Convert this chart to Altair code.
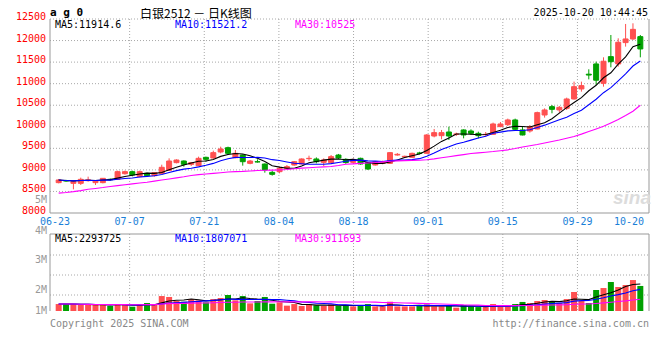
import altair as alt
import pandas as pd

# ---------------- data ----------------
opens = [8704, 8750, 8688, 8688, 8750, 8704, 8704, 8781, 8781, 8912,
         8959, 8843, 8920, 8866, 8920, 8990, 9168, 9206, 9129, 9098,
         9291, 9276, 9415, 9515, 9283, 9345, 9152, 9190, 9136, 8943,
         8959, 9036, 9113, 9137, 9260, 9253, 9175, 9168, 9345, 9245,
         9175, 9268, 9168, 9113, 9150, 9152, 9345, 9300, 9291, 9392,
         9384, 9786, 9794, 9879, 9825, 9926, 9902, 9848, 9817, 9825,
         10003, 10049, 10158, 9926, 9902, 9949, 10273, 10467, 10390, 10428,
         10645, 10877, 11220, 11457, 11008, 11627, 11457, 11952, 12037, 12091]
closes = [8766, 8742, 8727, 8781, 8770, 8742, 8804, 8770, 8959, 8959,
          8882, 8959, 8866, 8935, 9060, 9206, 9229, 9129, 9168, 9268,
          9245, 9400, 9485, 9384, 9384, 9190, 9206, 9183, 8998, 8897,
          9036, 9075, 9190, 9253, 9268, 9190, 9230, 9307, 9276, 9170,
          9237, 9137, 9020, 9190, 9175, 9400, 9361, 9315, 9384, 9384,
          9810, 9864, 9864, 9786, 9833, 9810, 9848, 9794, 9825, 10065,
          10065, 10158, 9941, 9810, 10003, 10328, 10390, 10405, 10451, 10645,
          10930, 10954, 11200, 11080, 11520, 11510, 11960, 12037, 12260, 11805]
highs = [8789, 8770, 8740, 8820, 8843, 8755, 8810, 8800, 8982, 8982,
         8982, 8982, 8935, 8950, 9121, 9268, 9245, 9220, 9183, 9307,
         9307, 9446, 9539, 9539, 9461, 9360, 9230, 9245, 9150, 8982,
         9075, 9113, 9206, 9268, 9330, 9290, 9268, 9345, 9370, 9268,
         9268, 9283, 9175, 9206, 9215, 9415, 9390, 9330, 9400, 9420,
         9830, 9949, 9926, 10003, 9864, 9940, 9941, 9887, 9879, 10096,
         10111, 10189, 10189, 10003, 10041, 10351, 10428, 10506, 10482, 10676,
         11047, 11047, 11333, 11511, 11611, 12129, 12052, 12385, 12400, 12129]
lows = [8688, 8720, 8549, 8650, 8727, 8650, 8688, 8750, 8770, 8890,
        8850, 8828, 8835, 8843, 8910, 8975, 9152, 9075, 9090, 9090,
        9190, 9260, 9384, 9345, 9268, 9098, 9130, 9170, 8935, 8866,
        8920, 9013, 9098, 9129, 9206, 9152, 9090, 9152, 9253, 9140,
        9152, 9120, 8998, 9100, 9130, 9137, 9330, 9290, 9280, 9360,
        9380, 9755, 9709, 9693, 9786, 9732, 9810, 9732, 9770, 9810,
        9995, 10018, 9902, 9800, 9864, 9940, 10212, 10312, 10328, 10390,
        10630, 10815, 11100, 10970, 10931, 11379, 11395, 11859, 12013, 11611]
volumes_m = [0.60, 0.60, 0.60, 0.52, 0.52, 0.52, 0.60, 0.43, 0.60, 0.52,
             0.37, 0.57, 0.69, 0.57, 1.29, 1.21, 0.86, 0.80, 1.03, 0.92,
             0.75, 1.03, 1.12, 1.38, 0.92, 1.29, 0.66, 0.86, 1.21, 0.63,
             0.75, 0.46, 0.60, 0.43, 0.57, 0.49, 0.43, 0.57, 0.43, 0.52,
             0.40, 0.43, 0.60, 0.40, 0.40, 0.80, 0.40, 0.40, 0.40, 0.43,
             0.57, 0.40, 0.40, 0.49, 0.29, 0.52, 0.40, 0.34, 0.34, 0.60,
             0.40, 0.40, 0.60, 0.78, 0.69, 0.86, 0.95, 0.86, 0.69, 1.03,
             1.64, 0.86, 0.69, 1.81, 1.98, 2.50, 2.07, 2.24, 2.67, 2.16]
ma30_price = [8460, 8475, 8495, 8520, 8550, 8570, 8590, 8615, 8635, 8655,
              8675, 8695, 8715, 8740, 8765, 8790, 8815, 8840, 8870, 8890,
              8905, 8920, 8935, 8950, 8960, 8965, 8975, 8985, 8990, 8995,
              9000, 9010, 9025, 9040, 9050, 9060, 9070, 9080, 9100, 9130,
              9140, 9150, 9160, 9170, 9185, 9200, 9210, 9215, 9220, 9225,
              9235, 9255, 9280, 9305, 9330, 9355, 9380, 9395, 9410, 9425,
              9445, 9465, 9495, 9530, 9560, 9590, 9625, 9660, 9695, 9735,
              9775, 9830, 9890, 9950, 10010, 10090, 10170, 10260, 10360, 10500]
date_labels = ["06-23", "07-07", "07-21", "08-04", "08-18", "09-01", "09-15", "09-29"]
last_date_label = "10-20"
price_ticks = [8000, 8500, 9000, 9500, 10000, 10500, 11000, 11500, 12000, 12500]
vol_tick_labels = ["5M", "4M", "3M", "2M", "1M"]
price_legend = ["MA5:11914.6", "MA10:11521.2", "MA30:10525"]
vol_legend = ["MA5:2293725", "MA10:1807071", "MA30:911693"]
legend_colors = ["#000000", "#0000ff", "#ff00ff"]

# ---------------- layout constants ----------------
W, H = 599, 292
P_BOT = 194           # bottom of price panel (plot coords)
V_TOP, V_BOT = 215, 292
N = len(closes)
GRID_STEP = 75.9 / W * N  # sina draws its vertical grid at a fixed pixel step
MONO = "DejaVu Sans Mono"
RED, GREEN = "#ff5050", "#00a000"
GRIDC = "#a8a8a8"
BORDER = "#999999"

df = pd.DataFrame({
    "d": list(range(N)), "open": opens, "close": closes, "high": highs,
    "low": lows, "vol": volumes_m, "ma30": ma30_price,
})
df["dir"] = ["up" if c >= o else "down" for o, c in zip(opens, closes)]

XS = alt.Scale(domain=[-0.5, N - 0.5], range=[0, W], nice=False, zero=False)
PY = alt.Scale(domain=[8000, 12500], range=[P_BOT, 0], nice=False, zero=False)
VY = alt.Scale(domain=[0, 6.64], range=[V_BOT, V_TOP], nice=False, zero=True)
COL = alt.Scale(domain=["up", "down"], range=[RED, GREEN])

xenc = alt.X("d:Q", scale=XS, axis=None)
one = pd.DataFrame({"a": [0]})


def rule(x=None, x2=None, y=None, y2=None, color=BORDER, dash=None):
    kw = {}
    if dash:
        kw["strokeDash"] = dash
    return alt.Chart(one).mark_rule(color=color, strokeWidth=1, **kw).encode(
        x=alt.value(x), x2=alt.value(x2) if x2 is not None else alt.value(x),
        y=alt.value(y), y2=alt.value(y2) if y2 is not None else alt.value(y))


def txt(s, x, y, color="#000", size=10, align="left", font=MONO, weight="normal",
        style="normal", baseline="middle"):
    return alt.Chart(one).mark_text(
        text=s, color=color, fontSize=size, align=align, baseline=baseline,
        font=font, fontWeight=weight, fontStyle=style).encode(
        x=alt.value(x), y=alt.value(y))


# grid
tick_df = pd.DataFrame({"p": [-0.5 + k * GRID_STEP for k in range(len(date_labels))],
                        "lab": date_labels})
vgrid_df = tick_df.iloc[1:]
hgrid = alt.Chart(pd.DataFrame({"v": price_ticks[1:]})).mark_rule(
    color=GRIDC, strokeDash=[1, 2]).encode(
    y=alt.Y("v:Q", scale=PY, axis=None), x=alt.value(0), x2=alt.value(W))
vgrid_p = alt.Chart(vgrid_df).mark_rule(color=GRIDC, strokeDash=[1, 2]).encode(
    x=alt.X("p:Q", scale=XS, axis=None), y=alt.value(0), y2=alt.value(P_BOT))
vgrid_v = alt.Chart(vgrid_df).mark_rule(color=GRIDC, strokeDash=[1, 2]).encode(
    x=alt.X("p:Q", scale=XS, axis=None), y=alt.value(V_TOP), y2=alt.value(V_BOT))
vol_hgrid = [rule(0, W, yy, color=GRIDC, dash=[1, 2]) for yy in (236, 256, 276)]

borders = [
    rule(0, None, 0, P_BOT), rule(W, None, 0, P_BOT), rule(0, W, P_BOT),
    rule(0, W, V_TOP), rule(0, None, V_TOP, V_BOT), rule(W, None, V_TOP, V_BOT),
]

# axis labels
plab = alt.Chart(pd.DataFrame({"v": price_ticks})).mark_text(
    align="right", baseline="middle", color="#ff0000", fontSize=10, font=MONO, dy=-2).encode(
    y=alt.Y("v:Q", scale=PY, axis=None), x=alt.value(-4), text=alt.Text("v:Q", format="d"))
dlab = alt.Chart(tick_df).mark_text(
    align="center", baseline="middle", color="#1a7fd8", fontSize=10, font=MONO).encode(
    x=alt.X("p:Q", scale=XS, axis=None), y=alt.value(202.5), text="lab:N")
dlab_last = alt.Chart(pd.DataFrame({"p": [N - 0.5], "lab": [last_date_label]})).mark_text(
    align="right", baseline="middle", color="#1a7fd8", fontSize=10, font=MONO).encode(
    x=alt.X("p:Q", scale=XS, axis=None), y=alt.value(202.5), text="lab:N")
vlab = [txt(s, -3, yy, color="#999999", align="right")
        for s, yy in zip(vol_tick_labels, (181, 211.5, 241, 271, 292))]

# candles
wicks = alt.Chart(df).mark_rule(strokeWidth=1).encode(
    x=xenc, y=alt.Y("low:Q", scale=PY, axis=None), y2="high:Q",
    color=alt.Color("dir:N", scale=COL, legend=None))
bodies = alt.Chart(df).mark_bar(size=5, strokeWidth=1).encode(
    x=xenc, y=alt.Y("open:Q", scale=PY, axis=None), y2="close:Q",
    color=alt.Color("dir:N", scale=COL, legend=None),
    stroke=alt.Stroke("dir:N", scale=COL, legend=None))


def ma_line(field, n, color, scale, interp="linear"):
    ch = alt.Chart(df)
    if n:
        ch = ch.transform_window(m=f"mean({field})", frame=[-(n - 1), 0],
                                 sort=[alt.SortField("d")])
        yf = "m:Q"
    else:
        yf = f"{field}:Q"
    return ch.mark_line(color=color, strokeWidth=1.1, interpolate=interp).encode(
        x=xenc, y=alt.Y(yf, scale=scale, axis=None))


price = alt.layer(
    hgrid, vgrid_p, vgrid_v, *vol_hgrid, *borders,
    txt("sina", 601, 179, color="#dcdcdc", size=19, align="right",
        font="Liberation Sans", weight="bold", style="italic"),
    wicks, bodies,
    ma_line("close", 5, "#000000", PY), ma_line("close", 10, "#0000ff", PY),
    ma_line("ma30", 0, "#ff00ff", PY),
    plab, dlab, dlab_last, *vlab,
    *[txt(s, x, 5.5, color=c) for s, x, c in zip(price_legend, (5, 125, 245), legend_colors)],
    *[txt(s, x, 220, color=c) for s, x, c in zip(vol_legend, (5, 125, 245), legend_colors)],
    txt("a g 0", 0, -6, size=11, weight="bold"),
    txt("白银2512 － 日K线图", 90, -5.5, size=12, font="Noto Sans CJK SC"),
    txt("2025-10-20 10:44:45", 598, -6, size=10, align="right"),
    txt("Copyright 2025 SINA.COM", 0, 305, color="#888888"),
    txt("http://finance.sina.com.cn", W, 305, color="#888888", align="right"),
)

vbars = alt.Chart(df).mark_bar(size=6).encode(
    x=xenc, y=alt.Y("vol:Q", scale=VY, axis=None),
    color=alt.Color("dir:N", scale=COL, legend=None))
vol = alt.layer(
    vbars,
    ma_line("vol", 5, "#000000", VY), ma_line("vol", 10, "#0000ff", VY),
    ma_line("vol", 30, "#ff00ff", VY),
)

chart = alt.layer(price, vol).resolve_scale(y="independent").properties(
    width=W, height=H,
    autosize=alt.AutoSizeParams(type="none"),
    padding={"left": 42, "top": 11, "right": 3, "bottom": 41},
    background="white",
).configure_view(stroke=None)

chart.save("out.html", embed_options={"renderer": "svg", "actions": False})
